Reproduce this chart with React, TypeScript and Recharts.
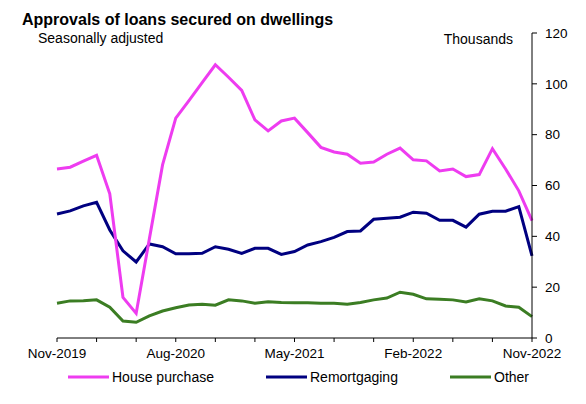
import { LineChart, Line, XAxis, YAxis } from "recharts";

const months = [
  "Nov-2019", "Dec-2019", "Jan-2020", "Feb-2020", "Mar-2020", "Apr-2020", "May-2020",
  "Jun-2020", "Jul-2020", "Aug-2020", "Sep-2020", "Oct-2020", "Nov-2020", "Dec-2020",
  "Jan-2021", "Feb-2021", "Mar-2021", "Apr-2021", "May-2021", "Jun-2021", "Jul-2021",
  "Aug-2021", "Sep-2021", "Oct-2021", "Nov-2021", "Dec-2021", "Jan-2022", "Feb-2022",
  "Mar-2022", "Apr-2022", "May-2022", "Jun-2022", "Jul-2022", "Aug-2022", "Sep-2022",
  "Oct-2022", "Nov-2022",
];

const housePurchase = [
  66.5, 67.2, 69.6, 71.9, 56.7, 16.0, 9.7, 39.0, 68.1, 86.5, 93.4, 100.5, 107.5,
  102.6, 97.4, 85.8, 81.5, 85.4, 86.5, 80.8, 75.0, 73.2, 72.3, 68.8, 69.2, 72.3,
  74.7, 70.1, 69.7, 65.7, 66.5, 63.5, 64.3, 74.5, 66.5, 57.9, 46.2,
];

const remortgaging = [
  48.8, 50.0, 52.0, 53.4, 42.5, 34.3, 29.9, 37.0, 35.9, 33.1, 33.1, 33.3, 35.9,
  34.9, 33.3, 35.3, 35.3, 32.9, 34.0, 36.6, 37.9, 39.6, 41.9, 42.1, 46.7, 47.1,
  47.5, 49.5, 49.1, 46.3, 46.3, 43.6, 48.7, 49.9, 49.9, 51.7, 32.3,
];

const other = [
  13.7, 14.6, 14.7, 15.0, 12.1, 6.7, 6.2, 8.7, 10.6, 11.9, 13.0, 13.3, 12.9,
  15.0, 14.6, 13.7, 14.3, 14.0, 13.9, 13.9, 13.7, 13.7, 13.3, 14.0, 15.0, 15.7,
  18.0, 17.2, 15.4, 15.2, 15.0, 14.2, 15.4, 14.6, 12.6, 12.1, 8.4,
];

// tick marks every quarter, labels every 9 months
const tickMonths = [
  "Nov-2019", "Feb-2020", "May-2020", "Aug-2020", "Nov-2020", "Feb-2021", "May-2021",
  "Aug-2021", "Nov-2021", "Feb-2022", "May-2022", "Aug-2022", "Nov-2022",
];
const labelMonths = ["Nov-2019", "Aug-2020", "May-2021", "Feb-2022", "Nov-2022"];
const yTicks = [0, 20, 40, 60, 80, 100, 120];

const PINK = "#EE3CF0";
const NAVY = "#000080";
const GREEN = "#3B7D23";
const FONT = "Arial, 'Liberation Sans', sans-serif";

const data = months.map((m, i) => ({
  month: m,
  house: housePurchase[i],
  remort: remortgaging[i],
  other: other[i],
}));

const legendItems = [
  { name: "House purchase", color: PINK, left: 68 },
  { name: "Remortgaging", color: NAVY, left: 266 },
  { name: "Other", color: GREEN, left: 450 },
];

export default function App() {
  return (
    <div
      style={{
        position: "absolute",
        left: 0,
        top: 0,
        width: 586,
        height: 404,
        background: "#fff",
        fontFamily: FONT,
        color: "#000",
      }}
    >
      <LineChart
        width={586}
        height={404}
        data={data}
        margin={{ top: 33, right: 0, left: 57, bottom: 36 }}
      >
        <XAxis
          dataKey="month"
          ticks={tickMonths}
          interval={0}
          height={30}
          stroke="#000"
          tickSize={4}
          tickMargin={6}
          tick={{ fontSize: 13.5, fill: "#000", fontFamily: FONT }}
          tickFormatter={(v: string) => (labelMonths.includes(v) ? v : "")}
        />
        <YAxis
          orientation="right"
          domain={[0, 120]}
          ticks={yTicks}
          width={54}
          stroke="#000"
          tickSize={5}
          tickMargin={8}
          tick={{ fontSize: 13.5, fill: "#000", fontFamily: FONT }}
        />
        <Line
          dataKey="other"
          stroke={GREEN}
          strokeWidth={3}
          dot={false}
          isAnimationActive={false}
        />
        <Line
          dataKey="remort"
          stroke={NAVY}
          strokeWidth={3}
          dot={false}
          isAnimationActive={false}
        />
        <Line
          dataKey="house"
          stroke={PINK}
          strokeWidth={3}
          dot={false}
          isAnimationActive={false}
        />
      </LineChart>

      <div
        style={{
          position: "absolute",
          left: 22,
          top: 11.7,
          fontSize: 16,
          lineHeight: "16px",
          fontWeight: "bold",
          whiteSpace: "nowrap",
        }}
      >
        Approvals of loans secured on dwellings
      </div>
      <div
        style={{
          position: "absolute",
          left: 38,
          top: 31,
          fontSize: 14,
          lineHeight: "14px",
          whiteSpace: "nowrap",
        }}
      >
        Seasonally adjusted
      </div>
      <div
        style={{
          position: "absolute",
          right: 73,
          top: 32.4,
          fontSize: 14,
          lineHeight: "14px",
          whiteSpace: "nowrap",
        }}
      >
        Thousands
      </div>

      {legendItems.map((item) => (
        <div
          key={item.name}
          style={{
            position: "absolute",
            left: item.left,
            top: 370,
            height: 14,
            display: "flex",
            alignItems: "center",
            fontSize: 14,
            lineHeight: "14px",
            whiteSpace: "nowrap",
          }}
        >
          <svg width={41} height={8} style={{ marginRight: 3 }}>
            <line x1={0} y1={4} x2={41} y2={4} stroke={item.color} strokeWidth={3} />
          </svg>
          {item.name}
        </div>
      ))}
    </div>
  );
}
